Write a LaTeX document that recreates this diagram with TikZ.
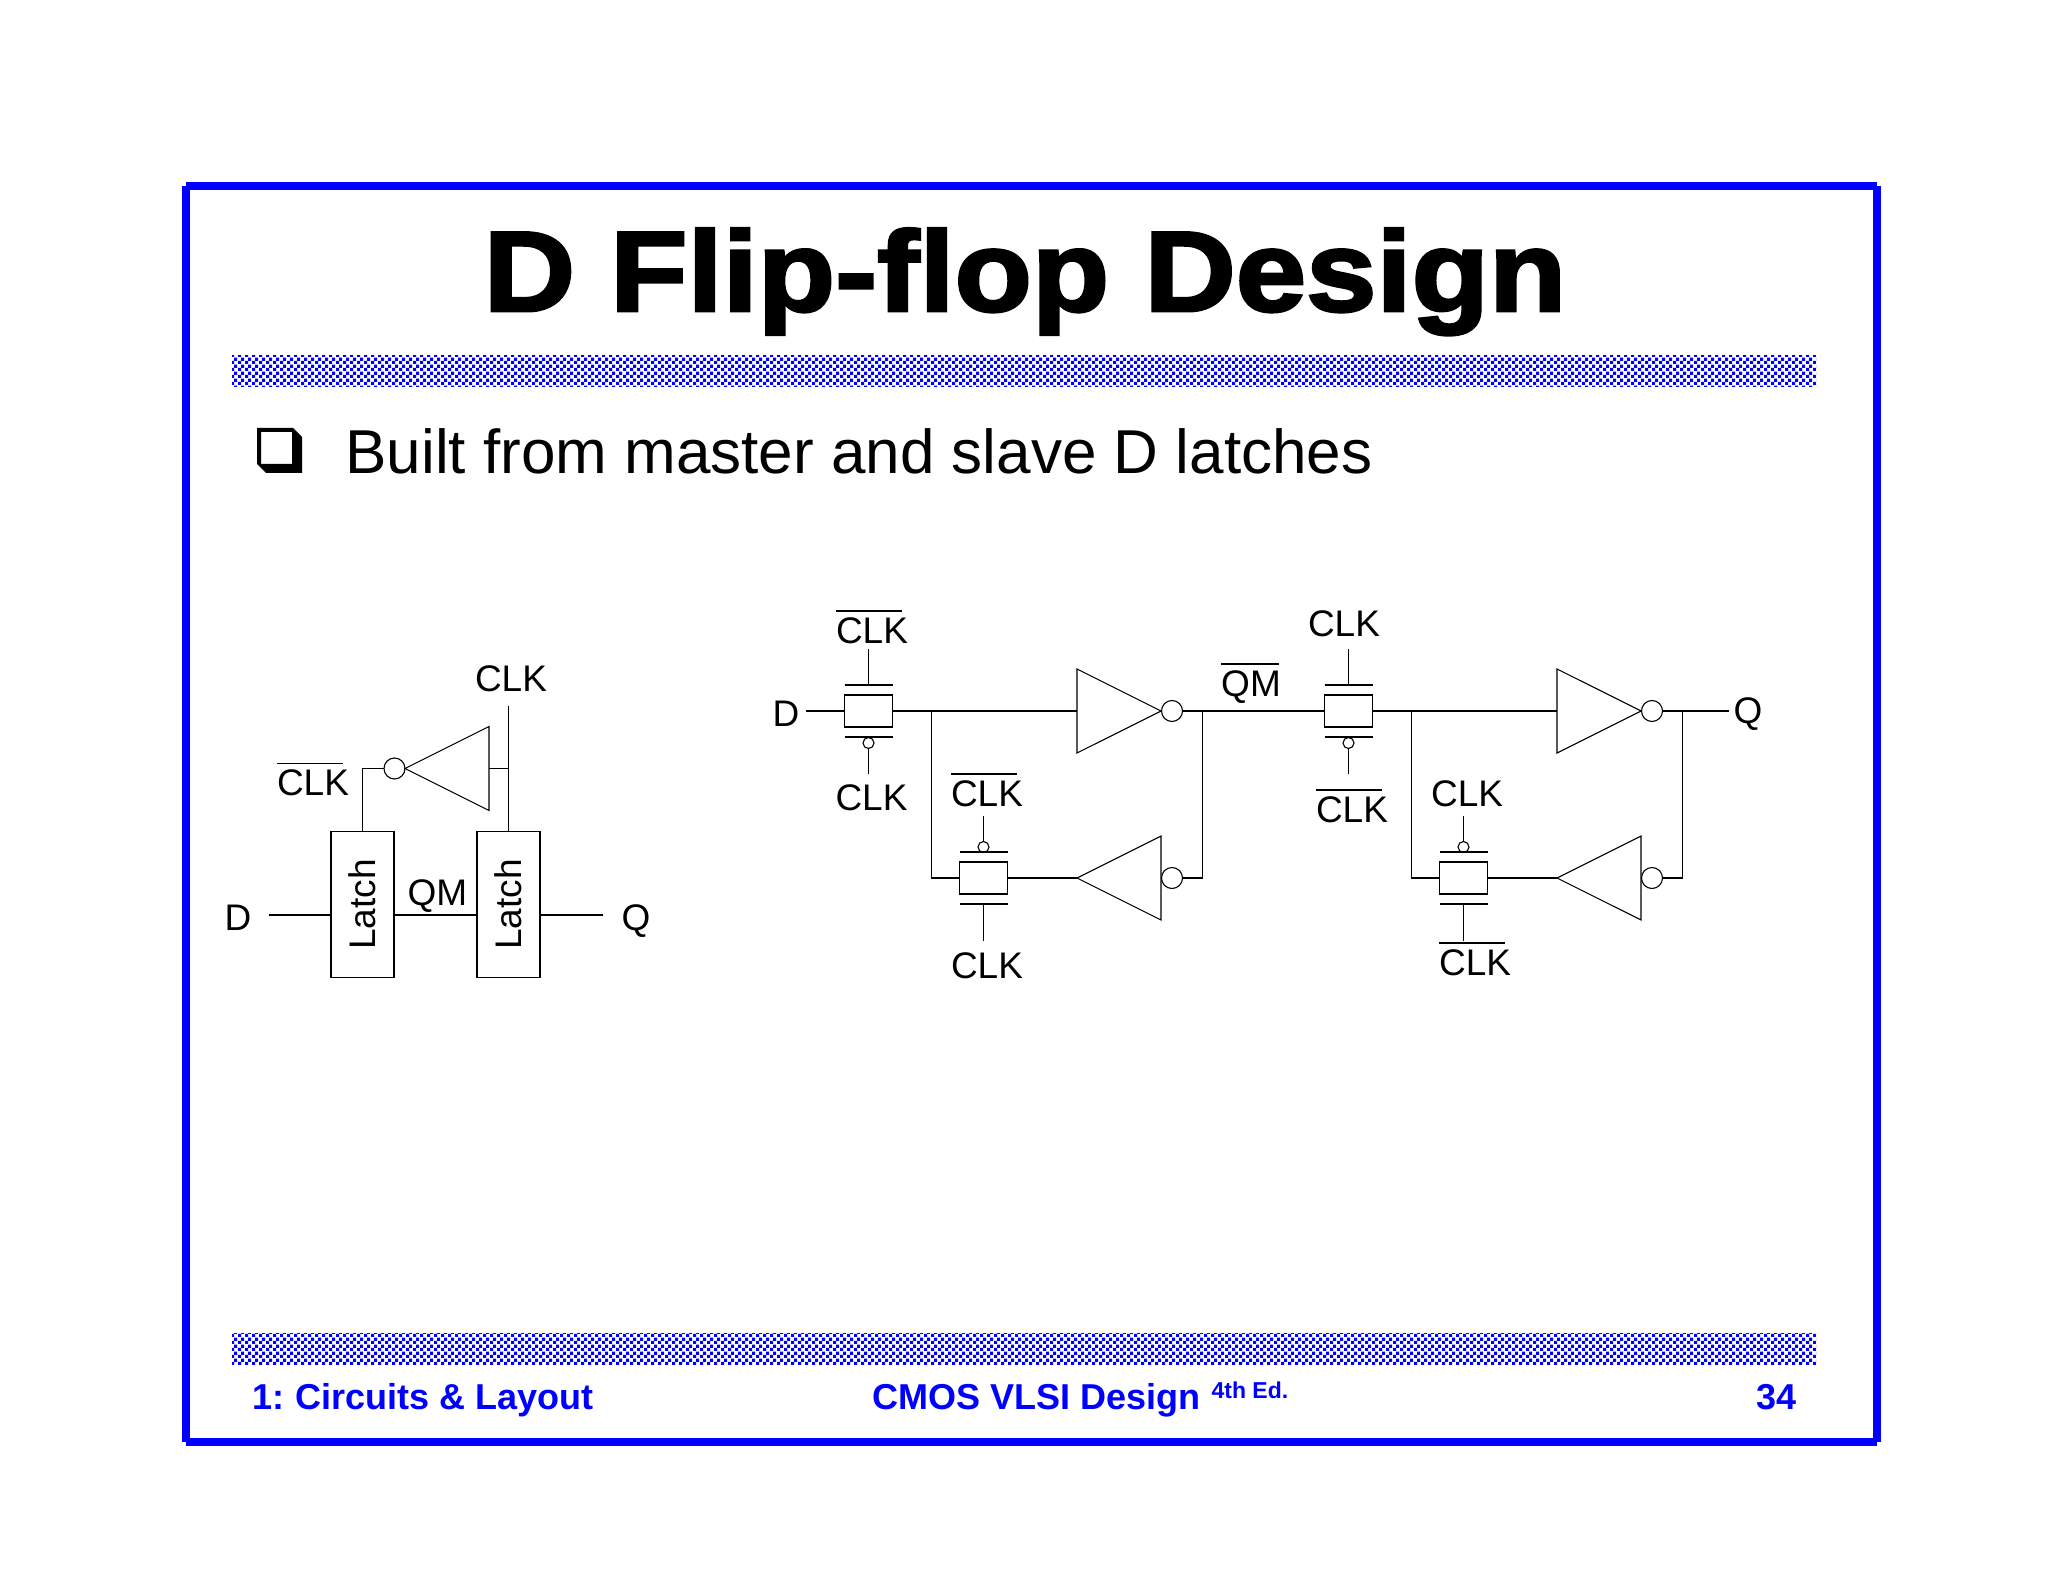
\documentclass[tikz,border=0pt]{standalone}
\usepackage{fontspec}
\setmainfont{Liberation Sans}
\newfontfamily\titlefont[FakeBold=2.6,FakeStretch=1.11]{Liberation Sans Bold}
\usepackage{amsmath}
\usetikzlibrary{patterns, positioning, shapes.geometric}
\usepackage{xcolor}
\definecolor{slideblue}{RGB}{0,0,255}
\pgfdeclarepatternformonly{checker}{\pgfqpoint{0pt}{0pt}}{\pgfqpoint{3.5pt}{3.5pt}}{\pgfqpoint{3.5pt}{3.5pt}}{%
  \pgfpathrectangle{\pgfqpoint{0pt}{0pt}}{\pgfqpoint{1.75pt}{1.75pt}}%
  \pgfpathrectangle{\pgfqpoint{1.75pt}{1.75pt}}{\pgfqpoint{1.75pt}{1.75pt}}%
  \pgfusepath{fill}}
\newcommand{\clkbar}{$\overline{\mbox{CLK}\rule{0pt}{13.6pt}\kern-3pt}\kern3pt$}
\newcommand{\qmbar}{$\overline{\mbox{QM}\rule{0pt}{13.6pt}\kern-1pt}\kern1pt$}

\begin{document}
\begin{tikzpicture}[x=0.5pt,y=-0.5pt,line width=0.55pt]
  \tikzset{
    frameline/.style={draw=slideblue,line width=4pt},
    hatchbar/.style={pattern=checker,pattern color=slideblue},
    lbl/.style={anchor=base,inner sep=0pt,font=\fontsize{18.5}{20}\selectfont},
    latchbox/.style={draw,rectangle,inner sep=0pt,outer sep=0pt,minimum width=31.5pt,minimum height=73pt,font=\fontsize{18.5}{20}\selectfont},
    tgbox/.style={draw,rectangle,inner sep=0pt,outer sep=0pt,minimum width=24pt,minimum height=16pt},
    bub/.style={draw,circle,inner sep=0pt,outer sep=0pt,minimum size=10.5pt},
    pin/.style={draw,circle,inner sep=0pt,outer sep=0pt,minimum size=5.5pt},
    invr/.style={draw,isosceles triangle,isosceles triangle apex angle=53.13,inner sep=0pt,outer sep=0pt,minimum height=42pt,anchor=apex},
    invl/.style={invr,shape border rotate=180}
  }
  \useasboundingbox (0,0) rectangle (2048,1582);

  % slide frame and bars
  \draw[frameline] (186,186) -- (1877,186);
  \draw[frameline] (186,186) -- (186,1442);
  \draw[frameline] (186,1442) -- (1877,1442);
  \draw[frameline] (1877,186) -- (1877,1442);
  \fill[hatchbar] (232,356) rectangle (1816,387);
  \fill[hatchbar] (232,1333) rectangle (1816,1364);

  \node[anchor=base,inner sep=0pt,font=\titlefont\fontsize{57}{60}\selectfont] (title) at (1025,311) {D Flip-flop Design};
  \fill[even odd rule] (257,428) -- (293,428) -- (302,437) -- (302,473) -- (266,473) -- (257,464) -- cycle
    (261,432) rectangle (292,464);
  \node[anchor=base west,inner sep=0pt,font=\fontsize{31}{33}\selectfont] (bullet) at (345,473.5) {Built from master and slave D latches};
  \node[anchor=base west,inner sep=0pt,text=slideblue,font=\bfseries\fontsize{18}{20}\selectfont] (chapter) at (252,1409) {1:\kern-1.3pt{} Circuits \& Layout};
  \node[anchor=base west,inner sep=0pt,text=slideblue,font=\bfseries\fontsize{18}{20}\selectfont] (book) at (872,1409) {CMOS VLSI Design};
  \node[anchor=base west,inner sep=0pt,text=slideblue,font=\bfseries\fontsize{11.5}{13}\selectfont] (edition) at (1211,1398) {4th Ed.};
  \node[anchor=base east,inner sep=0pt,text=slideblue,font=\bfseries\fontsize{18}{20}\selectfont] (page) at (1797,1409) {34};

  % block view
  \node[latchbox] (lat1) at (362.5,904.5) {\rotatebox{90}{Latch}};
  \node[latchbox] (lat2) at (508.5,904.5) {\rotatebox{90}{Latch}};
  \node[invl]     (inv0) at (405,768.5) {};
  \node[bub]      (bub0) at (394.5,768.5) {};
  \coordinate (din0)  at (269,915);
  \coordinate (qout0) at (603,915);
  \coordinate (clk0)  at (508.5,706);

  \path[draw]
  (din0) -- (din0 -| lat1.west)
  (din0 -| lat1.east) -- (din0 -| lat2.west)
  (din0 -| lat2.east) -- (qout0)
  (clk0) -- (lat2.north)
  (inv0.lower side) -- (inv0.lower side -| clk0)
  (bub0.west) -| (lat1.north)
  ;

  \node[lbl] (lclk)  at (511,691.5) {CLK};
  \node[lbl] (lclkb) at (313,795.5) {\clkbar};
  \node[lbl] (ld)    at (238,930)   {D};
  \node[lbl] (lqm)   at (437.5,905) {QM};
  \node[lbl] (lq)    at (636,930)   {Q};

  % gate view, both stages
  \node[tgbox] (tg1) at (868.5,711)  {};
  \node[tgbox] (tg2) at (983.5,878)  {};
  \node[tgbox] (tg3) at (1348.5,711) {};
  \node[tgbox] (tg4) at (1463.5,878) {};

  \node[invr] (inv1) at (1161,711) {};
  \node[invl] (inv2) at (1077,878) {};
  \node[invr] (inv3) at (1641,711) {};
  \node[invl] (inv4) at (1557,878) {};

  \node[bub] (bub1) at (1172,711) {};
  \node[bub] (bub2) at (1172,878) {};
  \node[bub] (bub3) at (1652,711) {};
  \node[bub] (bub4) at (1652,878) {};

  \node[pin] (pin1) at (868.5,743)  {};
  \node[pin] (pin2) at (983.5,847)  {};
  \node[pin] (pin3) at (1348.5,743) {};
  \node[pin] (pin4) at (1463.5,847) {};

  \coordinate (din1)  at (806,711);
  \coordinate (qout1) at (1729,711);
  \coordinate (jl1) at (931.5,711);
  \coordinate (jr1) at (1202.5,711);
  \coordinate (jl2) at (1411.5,711);
  \coordinate (jr2) at (1682.5,711);

  \coordinate (s1t) at (868.5,649);
  \coordinate (s1b) at (868.5,774);
  \coordinate (s2t) at (983.5,816);
  \coordinate (s2b) at (983.5,941);
  \coordinate (s3t) at (1348.5,649);
  \coordinate (s3b) at (1348.5,774);
  \coordinate (s4t) at (1463.5,816);
  \coordinate (s4b) at (1463.5,941);

  \foreach \tg in {tg1,tg2,tg3,tg4} {
    \draw (\tg.north west) ++(0,-10) -- ++(48,0);
    \draw (\tg.south west) ++(0,10)  -- ++(48,0);
  }

  \path[draw]
  (din1) -- (tg1.west)
  (tg1.east) -- (inv1.lower side)
  (bub1.east) -- (tg3.west)
  (tg3.east) -- (inv3.lower side)
  (bub3.east) -- (qout1)
  (jl1) |- (tg2.west)
  (tg2.east) -- (inv2.apex)
  (bub2.east) -| (jr1)
  (jl2) |- (tg4.west)
  (tg4.east) -- (inv4.apex)
  (bub4.east) -| (jr2)
  (s1t) -- ++(0,36)
  (s1b) -- (pin1.south)
  (s2t) -- (pin2.north)
  (s2b) -- ++(0,-37)
  (s3t) -- ++(0,36)
  (s3b) -- (pin3.south)
  (s4t) -- (pin4.north)
  (s4b) -- ++(0,-37)
  ;

  \node[lbl] (nd)  at (786,726)  {D};
  \node[lbl] (nq)  at (1748,723) {Q};
  \node[lbl] (nqm) at (1251,696) {\qmbar};
  \node[lbl] (c1t) at (872,643)  {\clkbar};
  \node[lbl] (c1b) at (871.5,810) {CLK};
  \node[lbl] (c2t) at (987,806)  {\clkbar};
  \node[lbl] (c2b) at (987,978)  {CLK};
  \node[lbl] (c3t) at (1344,636) {CLK};
  \node[lbl] (c3b) at (1352,822) {\clkbar};
  \node[lbl] (c4t) at (1467,806) {CLK};
  \node[lbl] (c4b) at (1475,975) {\clkbar};
\end{tikzpicture}
\end{document}
